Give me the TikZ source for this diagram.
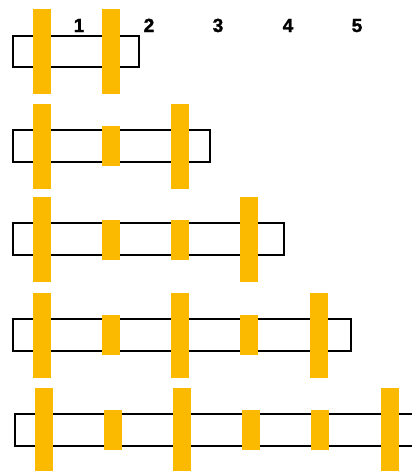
\documentclass[tikz,border=0pt]{standalone}
\usepackage{fontspec}
\setmainfont{Liberation Sans}
\newfontfamily\numfont{Liberation Sans Bold}[FakeBold=1.6]
\definecolor{barc}{HTML}{FBBA00}
\begin{document}
\begin{tikzpicture}[x=1pt,y=-1pt,
  tallbar/.style={fill=barc,draw=none,inner sep=0,minimum width=18pt,minimum height=85pt},
  shortbar/.style={fill=barc,draw=none,inner sep=0,minimum width=18pt,minimum height=40pt},
  frame/.style={draw=black,line width=1.4pt,fill=white},
  num/.style={font=\numfont\fontsize{19}{22}\selectfont\bfseries,inner sep=0,anchor=base}]
\useasboundingbox (0,0) rectangle (412,471);
% labels
\node[num] (l1) at (79,32) {1};
\node[num] (l2) at (149,32) {2};
\node[num] (l3) at (218,32) {3};
\node[num] (l4) at (288,32) {4};
\node[num] (l5) at (357,32) {5};
% row 1
\draw[frame] (13,36) rectangle (139,67);
\node[tallbar] (a1) at (42,51.5) {};
\node[tallbar] (a2) at (111,51.5) {};
% row 2
\draw[frame] (13,130) rectangle (210,162);
\node[tallbar] (b1) at (42,146.5) {};
\node[shortbar] (b2) at (111,146) {};
\node[tallbar] (b3) at (180,146.5) {};
% row 3
\draw[frame] (13,223) rectangle (284,255);
\node[tallbar] (c1) at (42,239.5) {};
\node[shortbar] (c2) at (111,240) {};
\node[shortbar] (c3) at (180,240) {};
\node[tallbar] (c4) at (249,239.5) {};
% row 4
\draw[frame] (13,319) rectangle (351,351);
\node[tallbar] (d1) at (42,335.5) {};
\node[shortbar] (d2) at (111,335) {};
\node[tallbar] (d3) at (180,335.5) {};
\node[shortbar] (d4) at (249,335) {};
\node[tallbar] (d5) at (319,335.5) {};
% row 5
\draw[frame] (15,414) rectangle (430,446);
\node[tallbar] (e1) at (44,430.5) {};
\node[shortbar] (e2) at (113,430) {};
\node[tallbar] (e3) at (182,430.5) {};
\node[shortbar] (e4) at (251,430) {};
\node[shortbar] (e5) at (320,430) {};
\node[tallbar] (e6) at (390,430.5) {};
\end{tikzpicture}
\end{document}
